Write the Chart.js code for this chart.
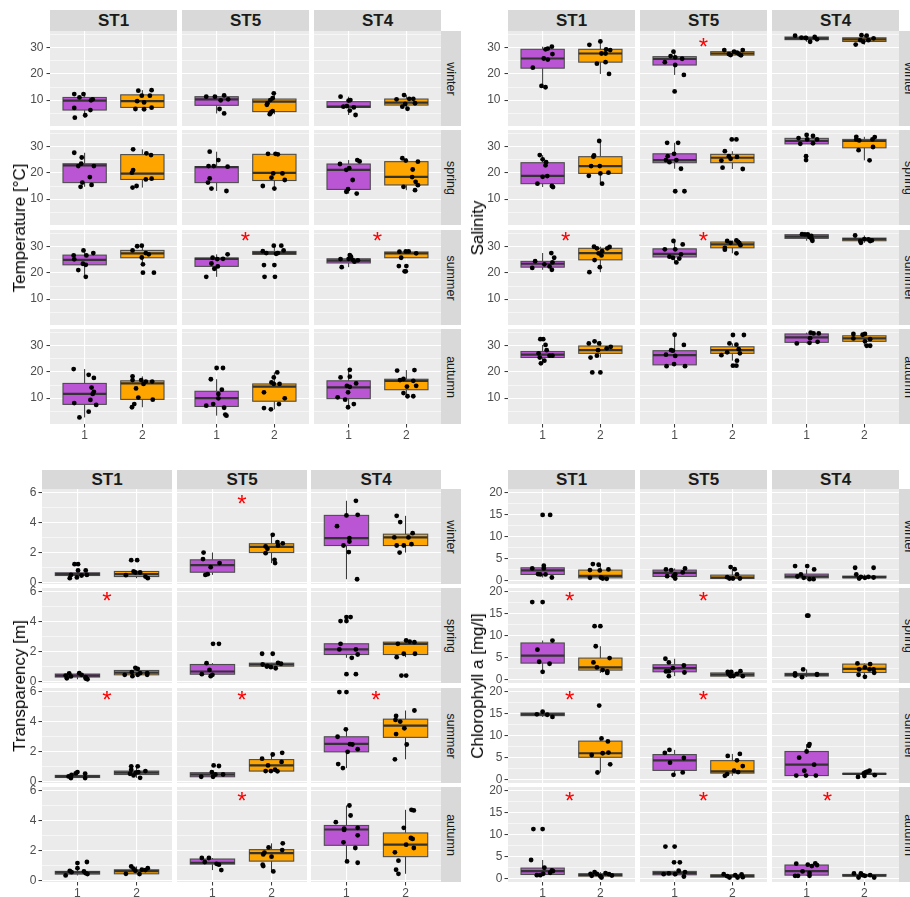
<!DOCTYPE html>
<html>
<head>
<meta charset="utf-8">
<script src="https://cdn.jsdelivr.net/npm/chart.js@4.4.0/dist/chart.umd.min.js"></script>
<style>
    body { margin: 0; width: 910px; height: 897px; overflow: hidden; background: #fff; position: relative;
           font-family: "Liberation Sans", Arial, sans-serif; }
    .strip { position: absolute; background: #d9d9d9; color: #1a1a1a; display: flex;
             align-items: center; justify-content: center; overflow: visible; }
    .top { font-weight: bold; font-size: 17px; }
    .side span { display: block; transform: rotate(90deg); font-size: 12.5px; white-space: nowrap; }
    .ytitle { position: absolute; font-size: 17px; color: #000; white-space: nowrap;
              transform: translate(-50%, -50%) rotate(-90deg); }
    canvas { position: absolute; }
</style>
</head>
<body>
<script>
// facets
const seasons = ['winter', 'spring', 'summer', 'autumn'];
const stations = ['ST1', 'ST5', 'ST4'];
const xTicks = [1, 2];

// box stats: [season][station] = [group1, group2], each [lower whisker, q1, median, q3, upper whisker]
const tempBox = [
    [[[3.3, 6.2, 9.8, 11.0, 12.3], [6.5, 7.2, 9.6, 12.0, 13.8]],
     [[4.9, 8.0, 10.3, 11.3, 11.8], [4.6, 5.6, 9.4, 10.4, 12.6]],
     [[4.3, 7.2, 7.5, 9.4, 11.3], [6.7, 8.1, 9.0, 10.4, 11.9]]],
    [[[14.7, 16.3, 22.9, 23.5, 27.7], [14.4, 17.5, 19.7, 27.0, 29.0]],
     [[13.1, 16.3, 22.2, 22.4, 28.1], [14.0, 17.1, 20.0, 27.1, 27.3]],
     [[12.1, 13.7, 21.2, 23.4, 24.9], [13.4, 15.4, 18.5, 24.3, 25.6]]],
    [[[18.5, 23.1, 25.0, 26.8, 28.6], [23.3, 25.8, 27.5, 28.6, 30.4]],
     [[18.5, 22.5, 25.4, 25.7, 27.1], [27.1, 27.1, 27.6, 28.2, 30.4]],
     [[22.2, 23.8, 24.7, 25.4, 26.8], [25.8, 25.8, 27.5, 28.0, 28.2]]],
    [[[2.6, 7.6, 11.6, 15.6, 21.1], [6.5, 9.5, 15.6, 16.6, 18.3]],
     [[3.3, 6.8, 10.0, 12.6, 17.2], [5.7, 8.8, 14.4, 15.4, 19.8]],
     [[6.5, 9.8, 14.1, 16.6, 20.8], [10.7, 13.2, 16.6, 17.2, 20.7]]]
];
// jittered points: [season][station] = [group1 points, group2 points], each point [x, value]
const tempPts = [
    [[[[0.82,12.3],[0.91,11.0],[0.98,12.3],[1.11,9.9],[1.14,10.3],[0.82,7.0],[1.10,6.2],[1.01,4.2],[0.83,3.3]],
      [[1.93,13.6],[2.16,13.8],[1.99,11.7],[2.13,11.7],[1.91,9.6],[2.03,9.1],[1.88,6.6],[2.03,6.5],[2.16,7.1]]],
     [[[0.82,11.3],[0.97,11.3],[1.13,11.8],[1.2,10.3],[1.07,9.9],[1.05,6.6],[1.13,4.9]],
      [[1.99,12.6],[1.97,10.7],[1.93,10.0],[1.88,8.8],[1.87,8.2],[1.94,5.3],[1.92,4.6],[1.97,5.8]]],
     [[[0.86,11.3],[1.0,9.8],[1.03,10.0],[0.97,7.7],[1.09,7.2],[1.02,6.0],[1.12,4.3],[0.91,7.5]],
      [[1.96,11.9],[1.83,10.3],[2.05,10.5],[2.12,10.5],[1.98,8.5],[2.15,8.8],[1.93,7.5],[2.02,6.7]]]],
    [[[[0.82,27.7],[0.95,25.9],[0.89,22.6],[0.94,23.5],[1.16,22.6],[1.09,18.4],[0.96,16.3],[0.93,14.7],[1.12,15.4]],
      [[1.84,29.0],[2.07,27.5],[2.15,26.8],[1.84,21.1],[1.82,20.1],[2.06,17.5],[2.16,17.8],[1.83,14.4],[1.9,15.0]]],
     [[[0.88,28.1],[1.03,24.9],[0.86,22.6],[0.95,22.6],[1.19,22.4],[0.88,17.9],[0.85,16.3],[0.91,14.0],[1.17,13.1]],
      [[1.89,27.3],[2.02,27.3],[2.06,27.1],[1.98,19.8],[2.14,19.8],[1.95,18.2],[2.18,17.3],[1.8,15.0],[2.0,14.0]]],
     [[[0.85,23.4],[0.96,21.2],[1.01,21.8],[1.15,24.9],[1.19,24.4],[1.07,17.3],[0.99,13.8],[0.96,12.8],[1.14,12.1]],
      [[1.93,25.6],[1.99,24.7],[2.2,24.3],[2.11,21.3],[2.1,18.4],[2.16,16.6],[2.2,15.3],[1.95,14.7],[2.15,13.4]]]],
    [[[[0.81,26.7],[0.82,25.2],[0.98,28.6],[1.03,26.7],[1.15,27.6],[0.97,23.5],[1.02,23.1],[0.89,21.1],[1.02,18.5]],
      [[1.83,28.6],[1.91,30.2],[1.99,30.4],[1.99,25.9],[2.06,27.6],[2.11,27.1],[2.01,23.3],[2.01,20.1],[2.2,20.1]]],
     [[[0.82,18.5],[0.93,25.8],[0.91,23.6],[0.96,21.6],[1.02,22.5],[1.01,25.3],[1.11,25.4],[1.19,27.1]],
      [[1.8,28.3],[1.86,27.6],[1.82,23.0],[1.83,18.5],[1.99,30.4],[2.0,23.0],[2.01,18.5],[2.03,27.3],[2.12,30.4],[2.16,28.6],[2.06,27.6]]],
     [[[0.86,25.3],[0.88,22.2],[1.02,26.8],[1.04,26.2],[1.07,25.0],[1.1,24.3],[1.16,24.8],[1.0,25.4]],
      [[1.88,28.1],[1.99,28.2],[2.04,28.2],[1.91,25.8],[1.87,22.6],[2.0,22.6],[1.97,20.6],[1.99,20.6],[2.17,27.5]]]],
    [[[[0.81,21.1],[1.07,18.9],[1.16,17.7],[1.12,14.0],[1.16,12.4],[1.14,11.6],[1.1,9.3],[1.2,7.4],[0.82,8.1],[1.07,4.8],[0.91,2.6]],
      [[1.83,18.3],[1.83,16.9],[1.98,16.9],[2.06,16.3],[2.17,16.3],[2.02,15.4],[1.89,13.7],[1.93,10.2],[2.18,9.4],[1.86,7.7],[1.82,6.5]]],
     [[[1.0,21.5],[1.11,21.5],[0.9,17.2],[1.09,13.2],[1.03,11.6],[1.03,9.9],[0.94,7.7],[0.82,7.1],[1.13,6.3],[1.15,3.7],[1.17,3.3]],
      [[2.05,19.8],[1.99,17.9],[1.95,16.0],[1.99,15.4],[2.09,15.4],[1.82,12.2],[2.18,9.9],[2.08,7.7],[1.82,6.2],[1.94,5.7]]],
     [[[1.02,20.8],[0.86,17.9],[1.02,18.2],[1.13,15.6],[0.97,14.7],[1.02,14.3],[0.99,12.2],[0.81,10.3],[0.94,9.4],[1.09,7.7],[0.99,6.5]],
      [[1.84,20.5],[2.14,20.7],[1.89,16.9],[1.95,17.3],[2.12,16.6],[2.01,14.4],[2.17,14.7],[1.95,11.9],[2.02,10.7],[2.12,10.7]]]]
];
// significance marks: [season index, station index, x, value]
const tempStars = [[2, 1, 1.5, 34.3], [2, 2, 1.5, 34.3]];
const tempMajor = [10, 20, 30];
const tempMinor = [5, 15, 25, 35];

const salBox = [
    [[[14.9, 22.2, 25.9, 29.4, 30.4], [20.0, 24.5, 27.8, 29.4, 32.4]],
     [[19.6, 23.4, 25.7, 26.6, 28.5], [27.1, 27.2, 27.8, 28.5, 29.1]],
     [[32.3, 33.1, 33.6, 34.1, 34.6], [31.2, 32.4, 33.2, 33.8, 34.8]]],
    [[[14.6, 15.9, 18.9, 23.9, 26.8], [15.9, 19.8, 22.6, 26.2, 32.2]],
     [[21.6, 23.9, 24.9, 27.3, 31.5], [21.5, 23.9, 25.8, 27.1, 28.3]],
     [[31.1, 31.1, 32.2, 33.2, 34.5], [24.8, 29.6, 32.2, 32.8, 33.8]]],
    [[[21.2, 22.2, 23.5, 24.4, 27.6], [20.3, 25.0, 27.6, 29.4, 30.0]],
     [[24.0, 26.1, 27.3, 29.2, 32.2], [27.5, 29.6, 30.9, 31.8, 32.4]],
     [[32.3, 33.2, 33.9, 34.6, 34.8], [31.5, 32.3, 32.9, 33.3, 34.3]]],
    [[[23.3, 25.5, 26.6, 27.8, 30.3], [25.5, 27.1, 28.3, 29.9, 31.7]],
     [[22.2, 22.7, 26.4, 28.1, 34.2], [24.3, 27.1, 28.3, 29.6, 30.9]],
     [[30.9, 31.3, 33.2, 34.5, 35.0], [30.0, 31.7, 32.8, 33.8, 34.5]]]
];
const salPts = [
    [[[[0.83,22.4],[0.98,15.4],[1.05,14.9],[1.02,25.9],[1.09,25.5],[1.05,29.4],[1.09,29.7],[1.16,30.4],[1.17,27.6]],
      [[1.81,31.1],[2.0,32.4],[2.1,29.4],[2.17,29.1],[2.02,27.8],[2.09,27.8],[1.94,23.9],[2.09,24.5],[2.15,20.0]]],
     [[[0.98,28.5],[0.93,26.8],[1.01,26.3],[1.13,25.8],[0.83,24.5],[1.01,23.4],[1.16,19.6],[1.0,13.3]],
      [[1.86,29.1],[1.94,27.6],[1.97,27.2],[2.03,28.5],[2.08,28.1],[2.12,27.5],[2.15,27.1],[2.18,29.1]]],
     [[[0.8,34.6],[0.91,33.9],[0.98,33.8],[1.06,32.3],[1.14,34.1],[1.18,33.2],[0.99,33.7]],
      [[1.85,31.2],[1.95,34.8],[2.04,34.6],[1.98,32.3],[1.93,32.9],[2.16,33.6],[2.07,32.9]]]],
    [[[[0.95,26.8],[1.0,25.2],[1.05,22.9],[1.06,24.1],[1.08,18.8],[1.0,18.5],[0.91,15.9],[1.16,15.0],[1.18,14.6]],
      [[1.98,32.2],[1.89,26.7],[1.88,26.2],[1.84,22.6],[1.99,22.6],[1.8,18.9],[2.0,19.8],[2.14,20.1],[2.03,15.9]]],
     [[[0.87,31.5],[1.06,31.5],[0.99,27.3],[0.88,26.4],[0.85,24.9],[0.91,24.1],[1.03,24.9],[1.11,21.6],[1.01,13.0],[1.17,13.0]],
      [[1.99,32.8],[2.07,32.8],[1.87,28.3],[1.94,26.4],[2.08,26.1],[1.81,24.7],[1.97,25.4],[1.83,22.0],[2.18,21.5]]],
     [[[1.0,34.5],[1.11,34.1],[0.86,33.3],[1.01,32.8],[1.18,32.8],[0.89,31.1],[1.11,31.3],[0.99,26.4],[0.99,24.9]],
      [[1.86,33.8],[1.86,32.8],[1.91,32.4],[2.18,33.7],[2.14,32.8],[2.15,29.9],[1.9,28.7],[2.09,24.8]]]],
    [[[[0.82,21.9],[0.87,24.5],[1.03,23.3],[1.15,27.6],[1.2,25.8],[1.17,24.0],[1.12,22.5],[1.16,21.2]],
      [[1.81,20.3],[1.89,30.0],[1.94,29.4],[1.9,24.9],[1.99,22.2],[1.97,27.5],[2.02,26.7],[2.03,28.3],[2.16,29.9],[2.12,29.4]]],
     [[[0.98,32.2],[0.83,29.0],[1.01,29.0],[1.11,27.1],[0.91,26.2],[0.97,25.8],[1.03,24.0],[1.08,25.5],[1.14,30.9]],
      [[1.87,29.6],[1.87,28.9],[1.91,32.2],[1.97,31.5],[2.07,32.4],[2.1,31.9],[2.14,30.6],[2.07,27.5],[2.12,31.4]]],
     [[[0.92,34.8],[0.97,34.7],[1.02,34.7],[1.08,34.1],[1.09,32.9],[1.1,32.3],[1.05,33.7]],
      [[1.84,34.3],[1.93,32.2],[1.94,31.5],[2.07,32.8],[2.1,32.2],[2.13,32.4],[2.0,32.9]]]],
    [[[[0.96,32.5],[1.01,32.5],[1.05,30.3],[1.07,28.3],[0.93,27.1],[0.95,25.5],[1.03,24.3],[0.97,23.3],[1.12,26.2],[1.17,26.2]],
      [[1.8,30.9],[1.9,31.7],[1.98,30.9],[1.96,28.3],[1.94,26.2],[1.83,25.5],[2.11,29.0],[2.18,29.6],[1.86,19.8],[2.0,19.8]]],
     [[[1.0,34.2],[1.16,30.3],[0.94,28.3],[0.97,28.1],[0.85,26.6],[1.01,26.1],[0.86,22.2],[0.99,23.0],[1.18,22.2]],
      [[2.01,34.1],[2.2,34.1],[1.95,30.9],[2.07,30.4],[2.11,28.7],[1.91,27.5],[1.81,26.4],[2.08,24.3],[2.01,22.4],[2.07,22.4],[2.13,27.1]]],
     [[[0.83,30.9],[1.05,31.1],[1.19,31.5],[1.06,32.9],[1.07,35.0],[1.12,34.7],[1.21,34.7]],
      [[1.81,34.5],[1.81,32.8],[1.97,34.2],[2.01,34.5],[2.1,32.5],[2.01,31.7],[2.04,30.0],[2.1,30.0]]]]
];
const salStars = [[0, 1, 1.5, 32.3], [2, 0, 1.4, 34.3], [2, 1, 1.5, 34.3]];
const salMajor = [10, 20, 30];
const salMinor = [5, 15, 25, 35];

const transBox = [
    [[[0.29, 0.47, 0.56, 0.65, 0.81], [0.29, 0.40, 0.56, 0.74, 0.74]],
     [[0.51, 0.69, 1.16, 1.52, 2.01], [1.3, 2.01, 2.39, 2.6, 3.2]],
     [[0.22, 2.48, 2.98, 4.5, 5.48], [2.01, 2.48, 3.02, 3.24, 4.47]]],
    [[[0.15, 0.3, 0.4, 0.5, 0.56], [0.36, 0.45, 0.6, 0.74, 0.92]],
     [[0.36, 0.49, 0.67, 1.14, 1.23], [0.89, 1.03, 1.14, 1.23, 1.25]],
     [[1.59, 1.81, 2.15, 2.53, 2.53], [1.63, 1.81, 2.53, 2.64, 2.75]]],
    [[[0.23, 0.27, 0.34, 0.41, 0.63], [0.25, 0.47, 0.59, 0.7, 1.02]],
     [[0.32, 0.32, 0.47, 0.59, 0.63], [0.68, 0.7, 1.08, 1.47, 1.92]],
     [[0.9, 1.99, 2.53, 3.0, 3.5], [1.49, 2.96, 3.75, 4.18, 4.76]]],
    [[[0.34, 0.43, 0.54, 0.61, 0.83], [0.43, 0.45, 0.63, 0.72, 0.94]],
     [[0.7, 1.1, 1.19, 1.44, 1.51], [0.61, 1.3, 1.84, 2.07, 2.49]],
     [[1.19, 2.36, 3.42, 3.69, 5.03], [0.45, 1.6, 2.4, 3.19, 4.74]]]
];
const transPts = [
    [[[[0.95,1.23],[1.01,1.23],[1.01,0.81],[1.14,0.81],[0.87,0.29],[0.99,0.34],[0.89,0.51],[1.07,0.47],[1.16,0.51]],
      [[1.91,1.5],[2.01,1.5],[1.82,0.49],[1.95,0.74],[1.98,0.67],[2.06,0.67],[2.15,0.4],[2.19,0.29]]],
     [[[0.85,2.01],[0.84,1.57],[1.12,1.3],[0.97,1.03],[0.88,0.51],[0.92,0.56]],
      [[2.02,3.2],[1.9,2.42],[1.93,2.26],[1.9,1.97],[2.1,2.71],[2.11,2.48],[2.19,2.62],[2.05,1.52],[2.06,1.3]]],
     [[[1.16,5.48],[1.0,4.5],[1.19,4.54],[0.84,3.78],[1.05,2.98],[1.05,2.75],[0.95,2.48],[1.04,2.04],[1.18,0.22]],
      [[1.85,4.47],[1.91,4.05],[1.81,3.02],[2.05,3.02],[2.12,3.31],[1.85,2.48],[1.97,2.48],[2.1,2.57],[1.9,2.01]]]],
    [[[[0.86,0.55],[1.03,0.56],[1.07,0.45],[0.8,0.4],[0.89,0.34],[1.14,0.29],[0.82,0.22],[1.14,0.2],[1.17,0.15]],
      [[1.98,0.92],[2.02,0.85],[1.92,0.63],[2.06,0.56],[2.18,0.56],[1.8,0.45],[1.93,0.36],[2.02,0.45],[2.18,0.45]]],
     [[[1.01,2.53],[1.11,2.53],[0.9,1.23],[0.95,0.78],[0.82,0.49],[0.97,0.36],[1.0,0.45]],
      [[1.84,1.86],[2.02,1.86],[1.85,1.14],[1.93,1.05],[2.07,0.89],[2.11,1.25],[2.16,1.19],[1.99,0.96],[1.92,1.0]]],
     [[[0.9,4.05],[1.0,4.05],[1.0,4.32],[1.07,4.32],[0.9,2.53],[0.88,2.15],[1.16,2.15],[1.09,1.59],[1.19,1.81],[1.0,0.49],[1.16,0.49]],
      [[1.87,2.53],[2.01,2.75],[2.07,2.68],[2.15,2.64],[1.97,1.86],[2.16,1.86],[1.85,1.63],[1.93,0.4],[2.01,0.4]]]],
    [[[[0.85,0.34],[0.89,0.23],[0.9,0.45],[0.97,0.54],[1.0,0.63],[1.13,0.52],[1.13,0.23]],
      [[1.91,1.02],[2.02,1.02],[1.91,0.79],[1.99,0.59],[2.03,0.63],[2.15,0.7],[1.95,0.41],[2.06,0.25],[1.89,0.52]]],
     [[[1.02,1.08],[1.11,1.04],[0.99,0.63],[0.81,0.32],[1.01,0.32],[1.18,0.47],[1.05,0.47]],
      [[2.18,1.92],[2.02,1.81],[1.84,1.53],[2.17,1.31],[1.94,1.08],[1.9,0.7],[1.99,0.7],[2.1,0.68],[2.06,0.79]]],
     [[[0.88,6.0],[1.0,6.0],[0.99,3.5],[0.85,3.0],[1.06,2.5],[1.1,2.48],[1.02,1.99],[1.19,2.17],[0.86,1.17],[0.94,0.9]],
      [[2.15,4.76],[1.84,4.4],[1.91,4.02],[1.83,4.13],[1.98,3.57],[1.84,3.18],[2.02,2.48],[1.82,1.49]]]],
    [[[[0.8,0.34],[0.87,0.65],[1.0,1.17],[1.0,0.83],[0.9,0.56],[1.11,0.61],[1.16,1.24],[1.14,0.49],[1.17,0.43]],
      [[1.82,0.45],[1.91,0.94],[1.98,0.65],[2.05,0.43],[2.09,0.72],[2.15,0.7],[2.19,0.83],[1.95,0.79]]],
     [[[0.82,1.51],[0.94,1.51],[0.87,1.24],[1.07,1.12],[1.11,1.06],[1.15,0.7]],
      [[2.19,2.49],[1.95,2.22],[1.88,1.87],[1.86,1.75],[2.18,2.04],[2.0,1.6],[1.86,0.97],[1.85,1.06],[2.03,0.61]]],
     [[[1.05,5.03],[1.07,4.36],[0.82,3.91],[0.96,3.48],[0.96,3.39],[1.19,3.53],[1.19,3.03],[0.95,2.56],[1.15,2.18],[1.01,1.28],[1.19,1.19]],
      [[2.1,4.74],[2.14,4.7],[1.97,3.53],[2.09,2.85],[2.12,2.79],[2.01,2.4],[2.14,2.18],[1.82,1.89],[1.88,1.33],[1.84,0.72],[1.88,0.45]]]]
];
const transStars = [[0, 1, 1.5, 5.66], [1, 0, 1.5, 5.78], [2, 0, 1.5, 5.83], [2, 1, 1.5, 5.83], [2, 2, 1.5, 5.83], [3, 1, 1.5, 5.71]];
const transMajor = [0, 2, 4, 6];
const transMinor = [1, 3, 5];

const chlBox = [
    [[[0.69, 1.38, 2.3, 2.9, 3.37], [0.38, 0.61, 1.07, 2.38, 3.75]],
     [[0.46, 0.92, 1.76, 2.38, 2.76], [0.46, 0.46, 0.69, 1.23, 2.6]],
     [[0.31, 0.61, 0.92, 1.46, 2.53], [0.46, 0.61, 0.77, 1.0, 1.38]]],
    [[[1.76, 3.75, 5.44, 8.35, 8.9], [1.5, 2.15, 2.76, 4.9, 7.6]],
     [[0.77, 1.76, 2.6, 3.37, 4.75], [0.77, 0.77, 1.1, 1.5, 1.9]],
     [[0.54, 0.8, 1.1, 1.4, 2.3], [0.62, 1.6, 2.45, 3.52, 3.68]]],
    [[[14.3, 14.6, 14.9, 15.2, 15.5], [1.6, 5.08, 6.0, 8.77, 9.38]],
     [[1.08, 2.08, 4.38, 5.7, 6.77], [0.85, 1.46, 1.85, 4.31, 5.85]],
     [[0.9, 0.9, 3.4, 6.4, 8.1], [0.6, 1.2, 1.3, 1.4, 2.0]]],
    [[[0.77, 0.92, 1.69, 2.38, 4.23], [0.23, 0.54, 0.85, 1.08, 1.46]],
     [[0.46, 0.85, 1.23, 1.62, 1.77], [0.23, 0.31, 0.62, 0.85, 1.0]],
     [[0.62, 0.77, 1.69, 3.08, 3.46], [0.23, 0.54, 0.69, 0.92, 1.15]]]
];
const chlPts = [
    [[[[1.0,15.0],[1.13,15.0],[0.82,2.76],[1.02,3.37],[1.02,2.76],[0.92,1.46],[1.05,1.38],[0.96,1.38],[1.16,0.69]],
      [[1.87,3.75],[1.97,3.6],[1.82,2.38],[2.14,2.53],[1.99,2.3],[1.82,0.61],[2.01,0.69],[2.04,0.46],[2.11,0.38]]],
     [[[0.85,2.53],[0.94,2.38],[1.18,2.76],[1.14,1.84],[1.01,1.38],[0.87,1.0],[0.98,1.0],[1.01,0.46]],
      [[1.97,3.07],[2.04,2.6],[2.08,1.38],[1.91,0.77],[1.95,0.46],[2.01,0.46],[2.13,0.46]]],
     [[[0.8,3.3],[1.01,3.3],[1.13,2.53],[0.9,1.38],[0.84,0.92],[1.05,0.31],[1.12,0.31],[0.95,0.61]],
      [[1.84,2.91],[2.16,2.91],[1.86,1.38],[1.91,0.46],[1.94,0.84],[2.07,0.84],[2.01,0.61],[2.16,0.69]]]],
    [[[[0.82,17.7],[1.0,17.7],[1.17,8.9],[0.91,6.82],[0.94,4.06],[1.12,3.6],[1.0,1.76]],
      [[1.9,12.2],[2.0,12.2],[1.92,7.6],[2.16,4.9],[1.88,3.9],[1.94,2.76],[2.04,2.15],[2.12,1.84],[2.12,1.5]]],
     [[[0.84,4.75],[0.9,3.9],[1.16,3.2],[0.97,2.6],[0.85,1.84],[0.9,1.84],[1.17,1.6],[0.9,0.77]],
      [[1.92,1.76],[1.98,1.76],[2.14,1.9],[1.93,1.31],[1.97,0.77],[2.02,0.8],[2.08,1.3],[2.18,0.77]]],
     [[[1.01,14.6],[1.03,14.6],[0.94,2.3],[0.8,1.38],[1.18,1.23],[0.8,0.92],[0.92,0.54],[1.18,1.08]],
      [[1.88,3.68],[2.1,3.52],[2.01,2.76],[1.91,2.3],[2.16,2.3],[2.09,2.3],[1.9,1.08],[2.01,0.62],[2.17,1.54]]]],
    [[[[1.0,15.5],[1.17,14.3],[0.9,14.9],[1.08,14.8]],
      [[1.98,16.9],[2.02,9.38],[2.13,8.7],[1.85,5.6],[2.04,6.0],[2.14,6.15],[2.17,3.46],[1.95,1.6]]],
     [[[0.91,6.77],[0.83,6.08],[1.16,4.92],[0.92,3.85],[1.14,1.62],[0.98,1.08]],
      [[2.13,5.85],[1.92,5.38],[2.08,4.38],[2.18,3.08],[2.1,1.69],[1.91,1.23],[1.87,0.85],[2.03,2.0]]],
     [[[1.05,8.1],[1.04,7.7],[1.0,6.4],[0.87,5.0],[1.13,3.4],[0.96,2.0],[0.82,0.9],[0.99,0.9],[1.16,0.9]],
      [[1.89,0.6],[1.99,1.4],[2.0,0.8],[2.05,1.8],[2.09,2.0],[2.02,1.6],[2.18,1.0]]]],
    [[[[0.84,11.3],[1.0,11.3],[0.8,4.23],[1.03,2.46],[1.16,1.85],[1.18,1.69],[0.9,0.77],[0.96,0.77],[1.01,1.08],[1.13,1.31]],
      [[1.83,1.08],[1.9,1.46],[1.94,1.08],[2.0,0.54],[2.02,0.23],[2.09,1.23],[2.15,1.0],[2.2,0.69],[1.85,0.62]]],
     [[[0.84,7.3],[1.0,7.3],[0.99,3.69],[1.09,3.69],[1.07,1.77],[1.18,1.46],[0.81,1.0],[0.9,1.15],[1.01,1.0],[1.16,0.46]],
      [[1.85,1.0],[1.91,0.54],[1.95,0.23],[2.05,0.77],[2.09,0.23],[2.16,0.92],[2.18,0.31]]],
     [[[0.82,3.38],[1.02,3.15],[1.15,3.46],[1.18,3.08],[1.09,2.85],[0.93,1.62],[1.05,1.23],[0.8,0.62],[0.85,0.62],[1.05,0.62]],
      [[1.82,1.15],[1.94,1.15],[1.9,0.23],[2.01,0.62],[2.1,0.77],[2.17,0.23],[1.97,0.77]]]]
];
const chlStars = [[1, 0, 1.47, 19.2], [1, 1, 1.5, 19.2], [2, 0, 1.47, 19.4], [2, 1, 1.5, 19.4],
                  [3, 0, 1.47, 19.0], [3, 1, 1.5, 19.0], [3, 2, 1.36, 19.0]];
const chlMajor = [0, 5, 10, 15, 20];
const chlMinor = [2.5, 7.5, 12.5, 17.5];

const groupColors = ['#ba55d3', '#ffa500'];

// layout of the four plots (pixels)
const panels = [
    { title: 'Temperature [°C]', box: tempBox, pts: tempPts, stars: tempStars, major: tempMajor, minor: tempMinor,
      yMin: 0.1, yMax: 36.4, cols: [50, 182, 314], colW: 127, rows: [31, 130, 230, 329], rowH: 95,
      stripTop: 10, axisW: 50, pad: 3, titleX: 20 },
    { title: 'Salinity', box: salBox, pts: salPts, stars: salStars, major: salMajor, minor: salMinor,
      yMin: 0.1, yMax: 36.4, cols: [508, 640, 772], colW: 127, rows: [31, 130, 230, 329], rowH: 95,
      stripTop: 10, axisW: 46, pad: 4, titleX: 478 },
    { title: 'Transparency [m]', box: transBox, pts: transPts, stars: transStars, major: transMajor, minor: transMinor,
      yMin: -0.1, yMax: 6.27, cols: [42, 177, 311], colW: 130, rows: [489, 588, 688, 787], rowH: 95,
      stripTop: 470, axisW: 42, pad: 2, titleX: 20 },
    { title: 'Chlorophyll a [mg/l]', box: chlBox, pts: chlPts, stars: chlStars, major: chlMajor, minor: chlMinor,
      yMin: -0.8, yMax: 20.92, cols: [508, 640, 772], colW: 127, rows: [489, 588, 688, 787], rowH: 95,
      stripTop: 470, axisW: 46, pad: 2, titleX: 478 }
];

Chart.defaults.font.family = '"Liberation Sans", Arial, sans-serif';

const facetPlugin = {
    id: 'facet',
    beforeDraw(chart) {
        const a = chart.chartArea, ctx = chart.ctx;
        ctx.save();
        ctx.fillStyle = '#ebebeb';
        ctx.fillRect(a.left, a.top, a.right - a.left, a.bottom - a.top);
        ctx.restore();
    },
    beforeDatasetsDraw(chart, args, opts) {
        const ctx = chart.ctx, xs = chart.scales.x, ys = chart.scales.y;
        ctx.save();
        opts.boxes.forEach((s, g) => {
            const cx = xTicks[g];
            const px = xs.getPixelForValue(cx);
            const x0 = xs.getPixelForValue(cx - 0.375), x1 = xs.getPixelForValue(cx + 0.375);
            const [lo, q1, md, q3, hi] = s.map(v => ys.getPixelForValue(v));
            ctx.strokeStyle = '#333';
            ctx.lineWidth = 1;
            ctx.beginPath();
            ctx.moveTo(px, lo); ctx.lineTo(px, q1);
            ctx.moveTo(px, q3); ctx.lineTo(px, hi);
            ctx.stroke();
            ctx.fillStyle = groupColors[g];
            ctx.fillRect(x0, q3, x1 - x0, q1 - q3);
            ctx.strokeStyle = '#4d4d4d';
            ctx.lineWidth = 1.1;
            ctx.strokeRect(x0, q3, x1 - x0, q1 - q3);
            ctx.strokeStyle = '#333';
            ctx.lineWidth = 2.2;
            ctx.beginPath();
            ctx.moveTo(x0, md); ctx.lineTo(x1, md);
            ctx.stroke();
        });
        ctx.restore();
    },
    afterDatasetsDraw(chart, args, opts) {
        const ctx = chart.ctx, xs = chart.scales.x, ys = chart.scales.y;
        ctx.save();
        ctx.fillStyle = '#ff0000';
        ctx.font = '24px "Liberation Sans", Arial, sans-serif';
        ctx.textAlign = 'center';
        ctx.textBaseline = 'alphabetic';
        opts.stars.forEach(([x, y]) => {
            ctx.fillText('*', xs.getPixelForValue(x), ys.getPixelForValue(y) + 0.57 * 24);
        });
        ctx.restore();
    }
};

function addDiv(cls, text, css) {
    const d = document.createElement('div');
    d.className = cls;
    Object.assign(d.style, css);
    if (cls.indexOf('side') >= 0) {
        const s = document.createElement('span');
        s.textContent = text;
        d.appendChild(s);
    } else {
        d.textContent = text;
    }
    document.body.appendChild(d);
}

// keep every facet's plotting area at exactly the size we ask for
function noPadding(s) {
    s.paddingTop = 0; s.paddingBottom = 0; s.paddingLeft = 0; s.paddingRight = 0;
}

function makeFacet(p, r, c) {
    const first = c === 0, bottom = r === 3;
    // room so the top and bottom tick labels of the first column are not cut
    const padT = first ? 8 : 0;
    const padB = (first && !bottom) ? 8 : 0;
    const canvas = document.createElement('canvas');
    const left = p.cols[c] - (first ? p.axisW : 0);
    const w = p.colW + (first ? p.axisW : 0);
    const h = p.rowH + padT + padB + (bottom ? 24 : 0);
    canvas.width = w;
    canvas.height = h;
    canvas.style.left = left + 'px';
    canvas.style.top = (p.rows[r] - padT) + 'px';
    document.body.appendChild(canvas);

    const yTicks = p.major.concat(p.minor).sort((a, b) => a - b);
    const isMajor = v => p.major.indexOf(v) >= 0;
    const boxes = p.box[r][c];
    const pts = p.pts[r][c];
    const stars = p.stars.filter(s => s[0] === r && s[1] === c).map(s => [s[2], s[3]]);

    new Chart(canvas.getContext('2d'), {
        type: 'scatter',
        data: {
            datasets: pts.map(list => ({
                data: list.map(([x, y]) => ({ x: x, y: y })),
                backgroundColor: '#000',
                borderWidth: 0,
                pointRadius: 2.4
            }))
        },
        options: {
            responsive: false,
            animation: false,
            events: [],
            devicePixelRatio: 1,
            layout: { padding: { top: padT, bottom: padB, left: 0, right: 0 }, autoPadding: false },
            plugins: {
                legend: { display: false },
                tooltip: { enabled: false },
                facet: { boxes: boxes, stars: stars }
            },
            scales: {
                x: {
                    type: 'linear', min: 0.4, max: 2.6,
                    afterBuildTicks: s => { s.ticks = xTicks.map(v => ({ value: v })); },
                    afterFit: s => { s.height = bottom ? 24 : 0; noPadding(s); },
                    ticks: { display: bottom, autoSkip: false, maxRotation: 0, padding: 1,
                             color: '#4d4d4d', font: { size: 12 }, callback: v => String(v) },
                    grid: { color: '#ffffff', lineWidth: 1.1, drawTicks: bottom, tickLength: 3.5,
                            tickColor: '#333', tickWidth: 1 },
                    border: { display: false }
                },
                y: {
                    type: 'linear', min: p.yMin, max: p.yMax,
                    afterBuildTicks: s => { s.ticks = yTicks.map(v => ({ value: v })); },
                    afterFit: s => { s.width = first ? p.axisW : 0; noPadding(s); },
                    ticks: { display: first, autoSkip: false, padding: p.pad,
                             color: '#4d4d4d', font: { size: 12 },
                             callback: v => isMajor(v) ? String(v) : '' },
                    grid: {
                        color: '#ffffff',
                        lineWidth: ctx => (ctx.tick && isMajor(ctx.tick.value)) ? 1.1 : 0.55,
                        drawTicks: first, tickLength: 3.5, tickWidth: 1,
                        tickColor: ctx => (ctx.tick && isMajor(ctx.tick.value)) ? '#333' : 'rgba(0,0,0,0)'
                    },
                    border: { display: false }
                }
            }
        },
        plugins: [facetPlugin]
    });
}

panels.forEach(p => {
    stations.forEach((st, c) => {
        addDiv('strip top', st, { left: p.cols[c] + 'px', top: p.stripTop + 'px',
            width: p.colW + 'px', height: (p.rows[0] - p.stripTop) + 'px' });
    });
    seasons.forEach((se, r) => {
        addDiv('strip side', se, { left: (p.cols[2] + p.colW) + 'px', top: p.rows[r] + 'px',
            width: '20px', height: p.rowH + 'px' });
        stations.forEach((st, c) => makeFacet(p, r, c));
    });
    const t = document.createElement('div');
    t.className = 'ytitle';
    t.textContent = p.title;
    t.style.left = p.titleX + 'px';
    t.style.top = ((p.rows[0] + p.rows[3] + p.rowH) / 2) + 'px';
    document.body.appendChild(t);
});
</script>
</body>
</html>
